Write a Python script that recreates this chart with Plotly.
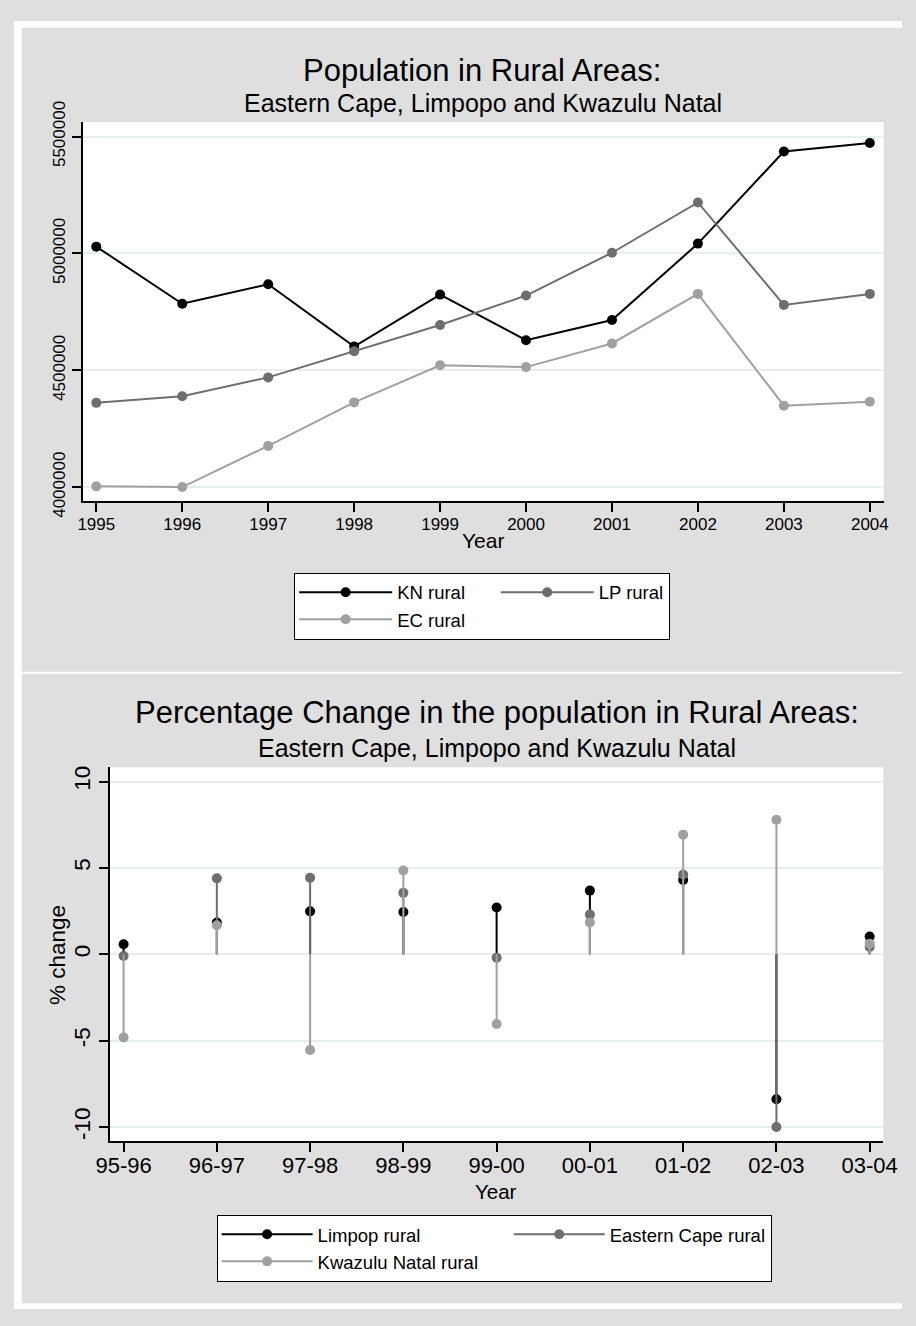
import plotly.graph_objects as go

W, H = 916, 1326
FONT = "Liberation Sans, Arial, sans-serif"
NBSP = "\u00a0"

# ---------------- data ----------------
years = [1995, 1996, 1997, 1998, 1999, 2000, 2001, 2002, 2003, 2004]
kn_rural = [5029000, 4785000, 4868000, 4602000, 4824000, 4629000, 4715000, 5042000, 5436000, 5472000]
lp_rural = [4361000, 4389000, 4470000, 4582000, 4694000, 4820000, 5003000, 5218000, 4780000, 4827000]
ec_rural = [4004000, 4001000, 4177000, 4363000, 4522000, 4514000, 4615000, 4827000, 4349000, 4366000]

periods = ["95-96", "96-97", "97-98", "98-99", "99-00", "00-01", "01-02", "02-03", "03-04"]
limpop_pct = [0.58, 1.84, 2.49, 2.45, 2.71, 3.69, 4.31, -8.39, 1.03]
eastern_cape_pct = [-0.10, 4.40, 4.44, 3.56, -0.19, 2.30, 4.62, -10.0, 0.43]
kwazulu_pct = [-4.81, 1.69, -5.54, 4.85, -4.03, 1.85, 6.93, 7.79, 0.62]

pop_ticks = [4000000, 4500000, 5000000, 5500000]
pct_ticks = [-10, -5, 0, 5, 10]

BLACK = "#000000"
DARK = "#6e6e6e"
LIGHT = "#a0a0a0"
GRID = "#e6eef0"
PANEL = "#dfdfdf"


def px(x):
    return x / W


def py(y):
    return 1 - y / H


fig = go.Figure()

# ---------------- top chart ----------------
top_series = [("KN rural" + NBSP * 5, kn_rural, BLACK, "g1"),
              ("LP rural", lp_rural, DARK, "g2"),
              ("EC rural", ec_rural, LIGHT, "g1")]
for name, vals, col, grp in top_series:
    fig.add_trace(go.Scatter(
        x=years, y=vals, name=name, mode="lines+markers",
        line=dict(color=col, width=2), marker=dict(color=col, size=10),
        legend="legend", legendgroup=grp, xaxis="x", yaxis="y"))

# ---------------- bottom chart ----------------
bottom_series = [("Limpop rural", limpop_pct, BLACK, "h1"),
                 ("Eastern Cape rural", eastern_cape_pct, DARK, "h2"),
                 ("Kwazulu Natal rural" + NBSP * 5, kwazulu_pct, LIGHT, "h1")]
for name, vals, col, grp in bottom_series:
    up = [max(-v, 0) for v in vals]
    down = [max(v, 0) for v in vals]
    fig.add_trace(go.Scatter(
        x=periods, y=vals, name=name, mode="markers",
        marker=dict(color=col, size=10),
        error_y=dict(type="data", symmetric=False, array=up, arrayminus=down,
                     color=col, thickness=2, width=0),
        showlegend=False, xaxis="x2", yaxis="y2"))
for name, vals, col, grp in bottom_series:
    fig.add_trace(go.Scatter(
        x=[None], y=[None], name=name, mode="lines+markers",
        line=dict(color=col, width=2), marker=dict(color=col, size=10),
        legend="legend2", legendgroup=grp, xaxis="x2", yaxis="y2"))

axis_common = dict(showline=True, linecolor=BLACK, linewidth=1.5, ticks="outside",
                   ticklen=9, tickwidth=1.5, tickcolor=BLACK, zeroline=False)

fig.update_layout(
    width=W, height=H, autosize=False,
    margin=dict(l=0, r=0, t=0, b=0),
    paper_bgcolor=PANEL, plot_bgcolor="#ffffff",
    font=dict(family=FONT, color=BLACK),
    xaxis=dict(domain=[px(70.7), px(897)], anchor="y", range=[1994.84, 2004.16],
               tickvals=years, showgrid=False, ticklabelstandoff=-2,
               tickfont=dict(family=FONT, color=BLACK, size=17), **axis_common),
    yaxis=dict(domain=[py(494), py(104)], anchor="x", range=[3942000, 5562000],
               tickvals=pop_ticks, ticktext=[str(v) for v in pop_ticks], tickangle=-90,
               showgrid=True, gridcolor=GRID, gridwidth=2,
               tickfont=dict(family=FONT, color=BLACK, size=17), **axis_common),
    xaxis2=dict(domain=[px(98.7), px(896.7)], anchor="y2", type="category",
                categoryorder="array", categoryarray=periods, range=[-0.149, 8.146],
                showgrid=False, ticklabelstandoff=-5,
                tickfont=dict(family=FONT, color=BLACK, size=22), **axis_common),
    yaxis2=dict(domain=[py(1153.3), py(768.3)], anchor="x2", range=[-10.82, 10.83],
                tickvals=pct_ticks, ticktext=[str(v) for v in pct_ticks], tickangle=-90,
                showgrid=True, gridcolor=GRID, gridwidth=2,
                tickfont=dict(family=FONT, color=BLACK, size=22.5), **axis_common),
    legend=dict(orientation="h", traceorder="grouped", x=px(289), y=py(568),
                xanchor="left", yanchor="top", bgcolor="#ffffff", bordercolor=BLACK,
                borderwidth=1, itemwidth=93,
                font=dict(family=FONT, size=18.5, color=BLACK)),
    legend2=dict(orientation="h", traceorder="grouped", x=px(209), y=py(1229),
                 xanchor="left", yanchor="top", bgcolor="#ffffff", bordercolor=BLACK,
                 borderwidth=1, itemwidth=91,
                 font=dict(family=FONT, size=18.5, color=BLACK)),
)

# white strips around/between the two grey panels
strips = [(0, 0, W, 7), (0, 0, 8, H), (0, 670, W, 672), (0, 1320, W, H)]
for x0, y0, x1, y1 in strips:
    fig.add_shape(type="rect", xref="paper", yref="paper",
                  x0=px(x0), x1=px(x1), y0=py(y1), y1=py(y0),
                  line=dict(width=0), fillcolor="#ffffff", layer="below")

texts = [
    ("Population in Rural Areas:", 483, 51, 31, 0),
    ("Eastern Cape, Limpopo and Kwazulu Natal", 484, 84, 25, 0),
    ("Year", 484, 535, 21, 0),
    ("Percentage Change in the population in Rural Areas:", 498, 712, 31, 0),
    ("Eastern Cape, Limpopo and Kwazulu Natal", 498, 748, 25, 0),
    ("Year", 497.5, 1205, 20.5, 0),
    ("% change", 45, 962, 22.5, -90),
]
for t, x, y, s, ang in texts:
    fig.add_annotation(text=t, x=px(x), y=py(y), xref="paper", yref="paper",
                       xanchor="center", yanchor="middle", showarrow=False,
                       textangle=ang, font=dict(family=FONT, size=s, color=BLACK))

fig.write_html("out.html",
               config={"displayModeBar": False},
               post_script="document.body.style.margin='0';"
                           "document.body.style.overflow='hidden';")
